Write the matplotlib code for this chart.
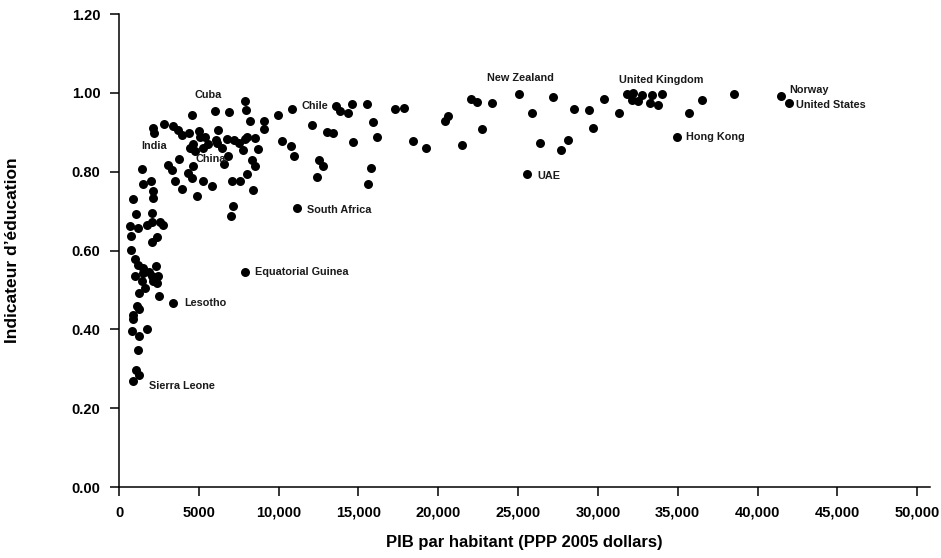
import matplotlib
matplotlib.use("Agg")
import matplotlib.pyplot as plt

# GDP per capita (PPP 2005 dollars) and education index
gdp = [7890, 7950, 6030, 6890, 4550, 10850, 9980, 8210, 9080, 9080,
       2820, 2110, 2190, 3400, 3710, 3930, 4380, 5030, 5070, 5390,
       6180, 6080, 5590, 5240, 4620, 4450, 4760, 6120, 6430, 6750,
       7200, 7530, 7890, 8000, 8520, 8720, 7790, 6850, 6580, 8310,
       8520, 8000, 7580, 7100, 8370, 7120, 7000, 10230, 10770, 10940,
       12070, 11130, 3780, 3090, 3300, 4620, 4340, 4550, 3510, 3930,
       5280, 5810, 4870, 1420, 1520, 1990, 2110, 2110, 900, 1050,
       2090, 690, 730, 1210, 1740, 2050, 2570, 2780, 2360, 2050,
       730, 1000, 1210, 1520, 2320, 1000, 1520, 1900, 2050, 2460,
       2150, 2360, 1460, 1630, 1270, 2520, 3400, 1110, 1270, 860,
       860, 800, 1270, 1740, 1210, 1070, 1270, 860, 7890,
       13590, 13840, 14360, 14570, 15550, 15930, 16140, 14640, 13050, 13420,
       12530, 12760, 12420, 15760, 15610, 17290, 17870, 18390, 19210, 20420,
       20620, 21460, 22030, 22400, 22720, 23380, 25030, 25890, 26370, 27160,
       27660, 28140, 25570, 28520, 29460, 29710, 30390, 31320, 31800, 32210,
       32110, 32520, 32760, 33400, 34010, 33260, 33740, 35680, 36530, 34930,
       38520, 41440, 41940]
edu = [0.979, 0.957, 0.953, 0.951, 0.945, 0.958, 0.945, 0.929, 0.928, 0.908,
       0.921, 0.911, 0.898, 0.916, 0.905, 0.893, 0.898, 0.902, 0.887, 0.889,
       0.905, 0.880, 0.871, 0.861, 0.870, 0.859, 0.853, 0.872, 0.861, 0.882,
       0.880, 0.874, 0.884, 0.889, 0.885, 0.857, 0.855, 0.840, 0.819, 0.829,
       0.814, 0.795, 0.776, 0.776, 0.753, 0.714, 0.687, 0.878, 0.864, 0.839,
       0.918, 0.707, 0.831, 0.816, 0.804, 0.814, 0.796, 0.785, 0.776, 0.757,
       0.776, 0.764, 0.738, 0.808, 0.770, 0.776, 0.751, 0.734, 0.731, 0.693,
       0.694, 0.662, 0.638, 0.658, 0.664, 0.672, 0.672, 0.664, 0.635, 0.622,
       0.601, 0.579, 0.563, 0.556, 0.560, 0.536, 0.543, 0.545, 0.536, 0.535,
       0.522, 0.518, 0.522, 0.505, 0.492, 0.484, 0.467, 0.460, 0.452, 0.437,
       0.425, 0.397, 0.382, 0.401, 0.348, 0.297, 0.285, 0.268, 0.546,
       0.967, 0.953, 0.948, 0.971, 0.971, 0.925, 0.889, 0.875, 0.901, 0.899,
       0.829, 0.814, 0.786, 0.809, 0.768, 0.959, 0.961, 0.878, 0.860, 0.929,
       0.940, 0.867, 0.984, 0.976, 0.908, 0.974, 0.997, 0.948, 0.872, 0.989,
       0.855, 0.880, 0.793, 0.960, 0.957, 0.910, 0.984, 0.948, 0.997, 0.999,
       0.981, 0.980, 0.995, 0.995, 0.997, 0.973, 0.969, 0.948, 0.981, 0.888,
       0.996, 0.993, 0.974]

# country labels (text position in data units)
label_names = ["Cuba", "India", "China", "Chile", "South Africa", "New Zealand",
               "UAE", "Equatorial Guinea", "Lesotho", "Sierra Leone",
               "United Kingdom", "Hong Kong", "Norway", "United States"]
label_x = [4700, 1420, 4760, 11400, 11770, 23050, 26180, 8520, 4070, 1900,
           31320, 35490, 41980, 42400]
label_y = [0.994, 0.864, 0.833, 0.967, 0.704, 1.037, 0.789, 0.545, 0.467, 0.257,
           1.033, 0.887, 1.007, 0.969]

xticks = [0, 5000, 10000, 15000, 20000, 25000, 30000, 35000, 40000, 45000, 50000]
xtick_labels = ["0", "5000", "10,000", "15,000", "20,000", "25,000", "30,000",
                "35,000", "40,000", "45,000", "50,000"]
yticks = [0.0, 0.2, 0.4, 0.6, 0.8, 1.0, 1.2]
ytick_labels = ["0.00", "0.20", "0.40", "0.60", "0.80", "1.00", "1.20"]

font = ["Liberation Sans", "DejaVu Sans"]

fig = plt.figure(figsize=(9.41, 5.58), dpi=100)
ax = fig.add_axes([0.1265, 0.1272, 0.8618, 0.8477])

ax.scatter(gdp, edu, s=42, color="black", linewidths=0, zorder=3)

for name, tx, ty in zip(label_names, label_x, label_y):
    ax.text(tx, ty, name, ha="left", va="center", fontsize=7.8,
            fontweight="bold", family=font, color="#1a1a1a")

ax.set_xlim(0, 50800)
ax.set_ylim(0, 1.2)
ax.set_xticks(xticks)
ax.set_xticklabels(xtick_labels, family=font, fontweight="bold", fontsize=10.5)
ax.set_yticks(yticks)
ax.set_yticklabels(ytick_labels, family=font, fontweight="bold", fontsize=10.5)
ax.tick_params(axis="both", direction="out", length=6.5, width=1.1, color="black")
ax.tick_params(axis="x", pad=7)
ax.tick_params(axis="y", pad=7)

for side in ["top", "right"]:
    ax.spines[side].set_visible(False)
for side in ["left", "bottom"]:
    ax.spines[side].set_linewidth(1.1)

ax.set_xlabel("PIB par habitant (PPP 2005 dollars)", family=font,
              fontweight="bold", fontsize=12, labelpad=11)
ax.set_ylabel("Indicateur d\u2019\u00e9ducation", family=font,
              fontweight="bold", fontsize=12.5)
ax.yaxis.set_label_coords(-0.122, 0.5)

fig.savefig("out.png", dpi=100)
